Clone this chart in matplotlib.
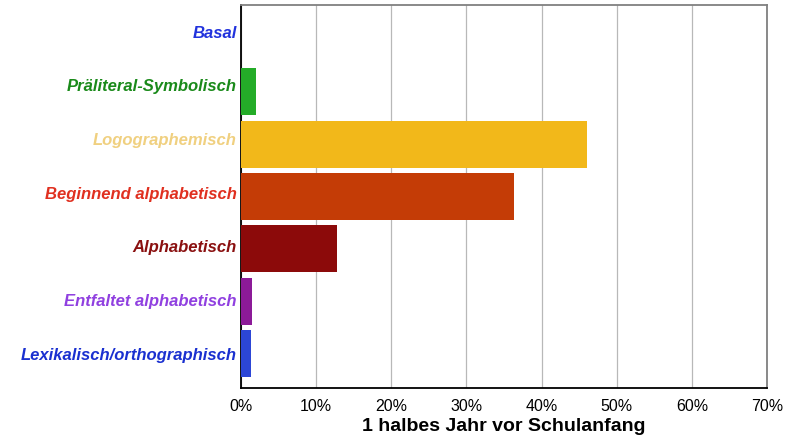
import matplotlib.pyplot as plt
import numpy as np

# stage names and share of children (percent), top to bottom
stages = ['Basal', 'Präliteral-Symbolisch', 'Logographemisch', 'Beginnend alphabetisch',
          'Alphabetisch', 'Entfaltet alphabetisch', 'Lexikalisch/orthographisch']
values = [0.0, 2.0, 46.0, 36.3, 12.8, 1.5, 1.3]

bar_colors = ['#2233dd', '#24ac28', '#f2b81a', '#c43c06', '#8c0a0a', '#8c1a98', '#2c46d6']
label_colors = ['#2233dd', '#1a8a1a', '#f0d080', '#e03020', '#8a1010', '#9040e0', '#1a30d0']

xticks = [0, 10, 20, 30, 40, 50, 60, 70]

plt.rcParams['font.family'] = ['Liberation Sans', 'DejaVu Sans']

fig = plt.figure(figsize=(7.92, 4.43), dpi=100)
ax = fig.add_axes([241/792, 55/443, 526/792, 383/443])

y = np.arange(len(stages))
ax.barh(y, values, height=0.9, color=bar_colors, zorder=3)

ax.set_xlim(0, 70)
ax.set_ylim(len(stages) - 0.5 + 0.16, -0.5 - 0.16)
ax.set_xticks(xticks)
ax.set_xticklabels([f'{t}%' for t in xticks], fontsize=11.5)

# labels sit on a slightly wider pitch than the bars
ax.set_yticks(y * 1.026 - 0.15)
ax.set_yticklabels(stages, fontsize=12, fontweight='bold', fontstyle='italic')
for lbl, c in zip(ax.get_yticklabels(), label_colors):
    lbl.set_color(c)
ax.tick_params(axis='both', length=0)
ax.tick_params(axis='x', pad=8)
ax.tick_params(axis='y', pad=3)

ax.grid(axis='x', color='#b8b8b8', linewidth=0.9, zorder=0)
ax.spines['left'].set_color('black')
ax.spines['bottom'].set_color('black')
ax.spines['top'].set_color('#808080')
ax.spines['right'].set_color('#808080')
for s in ax.spines.values():
    s.set_linewidth(1.3)

ax.set_xlabel('1 halbes Jahr vor Schulanfang', fontsize=14, fontweight='bold', labelpad=3)

fig.savefig('out.png', dpi=100)
